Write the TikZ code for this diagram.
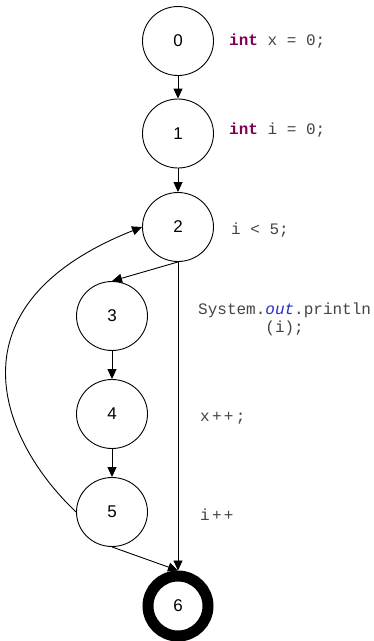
\documentclass[tikz,border=0pt]{standalone}
\usepackage{fontspec}
\newfontfamily\codefont{Liberation Mono}
\newfontfamily\numfont{Liberation Sans}
\usetikzlibrary{shapes.geometric,arrows.meta}
\definecolor{kw}{HTML}{7F0055}
\definecolor{fld}{HTML}{2A2AC8}
\definecolor{codegray}{HTML}{444444}
\newcommand{\wch}[1]{\makebox[11.9pt][l]{#1}}
\begin{document}
\begin{tikzpicture}[x=1pt,y=-1pt,
  state/.style={ellipse, draw, line width=0.9pt, minimum width=71pt, minimum height=69pt,
    inner sep=0pt, font=\numfont\fontsize{17}{18}\selectfont},
  finalstate/.style={circle, draw, line width=11pt, minimum size=60pt, inner sep=0pt,
    font=\numfont\fontsize{17}{18}\selectfont},
  code/.style={inner sep=0pt, text=codegray, font=\codefont\fontsize{16}{18}\selectfont},
  arr/.style={-{Triangle[length=10pt,width=9pt]}, line width=0.9pt}]
\useasboundingbox (0,0) rectangle (373,641);
% nodes
\node[state] (n0) at (178,41) {0};
\node[state] (n1) at (178,133.5) {1};
\node[state] (n2) at (178,227) {2};
\node[state] (n3) at (112,316) {3};
\node[state] (n4) at (112,414) {4};
\node[state] (n5) at (112,512) {5};
\node[finalstate] (n6) at (178,606) {6};
% labels
\node[code, anchor=base west] (l0) at (229,45) {\textcolor{kw}{\bfseries int} x = 0;};
\node[code, anchor=base west] (l1) at (229,134) {\textcolor{kw}{\bfseries int} i = 0;};
\node[code, anchor=base west] (l2) at (231,234) {i < 5;};
\node[code, anchor=base west] (l3) at (198,314) {System.\textcolor{fld}{\itshape out}.println};
\node[code, anchor=base] (l3b) at ([yshift=-18pt]l3.base) {(i);};
\node[code, anchor=base west] (l4) at (200,421) {\wch{x}\wch{+}\wch{+};};
\node[code, anchor=base west] (l5) at (200,520) {\wch{i}\wch{+}+};
% connectors
\draw[arr] (n0) -- (n1);
\draw[arr] (n1) -- (n2);
\draw[arr] (n2.south) -- (n3.north);
\draw[arr] (n3) -- (n4);
\draw[arr] (n4) -- (n5);
\draw[arr] (n2.south) -- (n6.north);
\draw[arr] (n5.south) -- (n6.north);
\draw[arr] (n5.west) .. controls (0,440) and (-55,305) .. (n2.west);
\end{tikzpicture}
\end{document}
